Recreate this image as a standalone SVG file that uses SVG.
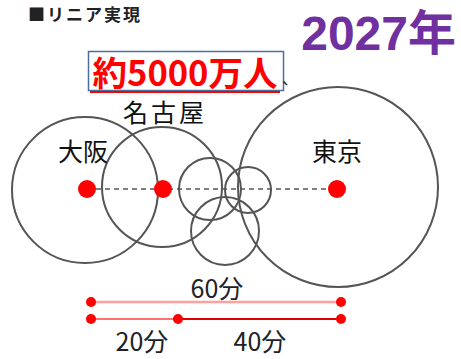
<svg xmlns="http://www.w3.org/2000/svg" width="461" height="359" viewBox="0 0 461 359">
<style>
.ring{fill:none;stroke:#555;stroke-width:2}
.city{font-family:"Noto Sans CJK JP","Noto Sans",sans-serif;font-size:25px;fill:#111;text-anchor:middle}
.dot{fill:#ff0000}
.min{font-family:"Noto Sans CJK JP","Noto Sans",sans-serif;font-size:25px;fill:#222;text-anchor:middle}
</style>
<rect width="461" height="359" fill="#fff"/>
<text x="28" y="21" font-family="'Noto Sans CJK JP',sans-serif" font-size="17" font-weight="bold" letter-spacing="2" fill="#222">■リニア実現</text>
<text x="456" y="50" text-anchor="end" font-family="'Liberation Sans','Noto Sans CJK JP',sans-serif" font-size="48" font-weight="bold" fill="#7030a0">2027年</text>
<g id="circles">
<circle class="ring" cx="85" cy="190" r="73"/>
<circle class="ring" cx="162" cy="187" r="60"/>
<circle class="ring" cx="210" cy="189" r="31"/>
<circle class="ring" cx="248" cy="190" r="23"/>
<circle class="ring" cx="225" cy="231" r="34"/>
<circle class="ring" cx="338" cy="187" r="100"/>
</g>
<g id="connectors">
<line x1="87" y1="189" x2="337" y2="189" stroke="#555" stroke-width="1.5" stroke-dasharray="5,4"/>
<line x1="91" y1="302" x2="341" y2="302" stroke="#ffa0a0" stroke-width="2.5"/>
<line x1="91" y1="319" x2="178" y2="319" stroke="#ff7070" stroke-width="2"/>
<line x1="178" y1="319" x2="341" y2="319" stroke="#e00000" stroke-width="2"/>
</g>
<g id="osaka">
<circle class="dot" cx="87" cy="189" r="9"/>
<text class="city" x="83" y="161">大阪</text>
</g>
<g id="nagoya">
<circle class="dot" cx="163" cy="189" r="9"/>
<text class="city" x="165" y="122" letter-spacing="3">名古屋</text>
</g>
<g id="tokyo">
<circle class="dot" cx="337" cy="189" r="9"/>
<text class="city" x="337" y="161">東京</text>
</g>
<g id="population">
<rect x="88.5" y="51.5" width="195" height="39" fill="#fff" stroke="#4a6f9f" stroke-width="1.5"/>
<text x="185" y="86" text-anchor="middle" font-family="'Noto Sans CJK JP','Noto Sans',sans-serif" font-size="34.5" font-weight="bold" fill="#ff0000">約5000万人</text>
<line x1="90" y1="92" x2="280" y2="92" stroke="#ff0000" stroke-width="2"/>
<text x="282" y="84" font-family="'Noto Sans CJK JP',sans-serif" font-size="16" fill="#222">、</text>
</g>
<g id="timeline">
<circle class="dot" cx="91" cy="302" r="5"/>
<circle class="dot" cx="341" cy="302" r="5"/>
<circle class="dot" cx="91" cy="319" r="5"/>
<circle class="dot" cx="178" cy="319" r="5"/>
<circle class="dot" cx="341" cy="319" r="5"/>
<text class="min" x="217" y="298">60分</text>
<text class="min" x="142" y="351">20分</text>
<text class="min" x="260" y="351">40分</text>
</g>
</svg>
